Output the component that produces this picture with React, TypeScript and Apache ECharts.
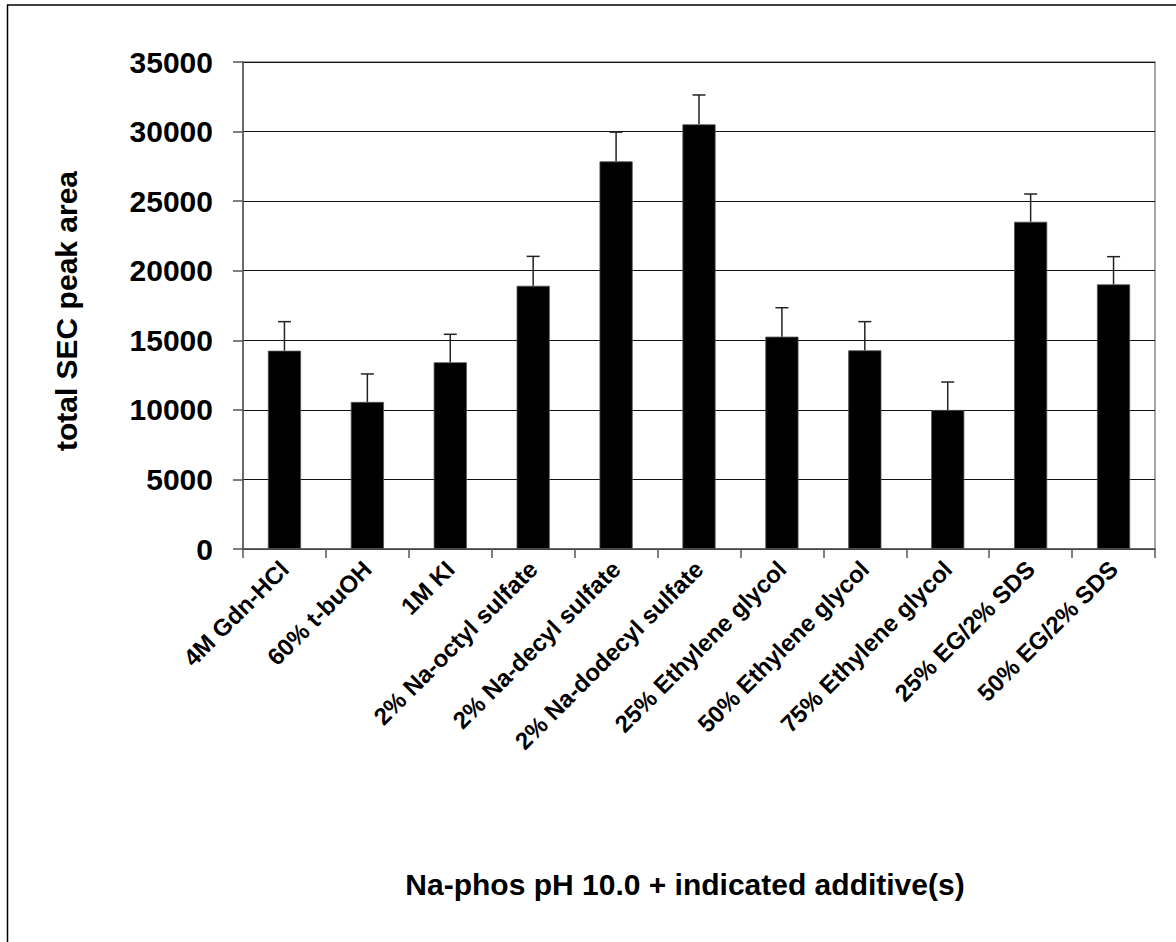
import React, { useEffect, useRef } from "react";
import * as echarts from "echarts";

const categories = [
  "4M Gdn-HCl",
  "60% t-buOH",
  "1M KI",
  "2% Na-octyl sulfate",
  "2% Na-decyl sulfate",
  "2% Na-dodecyl sulfate",
  "25% Ethylene glycol",
  "50% Ethylene glycol",
  "75% Ethylene glycol",
  "25% EG/2% SDS",
  "50% EG/2% SDS",
];
const peakArea = [14250, 10570, 13420, 18920, 27860, 30520, 15260, 14280, 9990, 23520, 19020];
const errorPlus = [2090, 2010, 2010, 2110, 2100, 2110, 2080, 2060, 2010, 1990, 1990];
const yTicks = { min: 0, max: 35000, interval: 5000 };
const yTitle = "total SEC peak area";
const xTitle = "Na-phos pH 10.0 + indicated additive(s)";

const FONT = "'Liberation Sans', Arial, sans-serif";

export default function App() {
  const ref = useRef<HTMLDivElement>(null);
  useEffect(() => {
    document.body.style.margin = "0";
    const chart = echarts.init(ref.current!, null, { renderer: "svg" });
    const errData = peakArea.map((v, i) => [i, v, errorPlus[i]]);
    chart.setOption({
      animation: false,
      backgroundColor: "#ffffff",
      grid: {
        left: 243,
        top: 62,
        right: 21,
        bottom: 393,
        show: true,
        borderColor: "#8a8a8a",
        borderWidth: 1.5,
        backgroundColor: "transparent",
      },
      xAxis: {
        type: "category",
        data: categories,
        axisLine: { show: true, lineStyle: { color: "#555", width: 1.5 } },
        axisTick: { show: true, length: 9, lineStyle: { color: "#555", width: 1.5 } },
        axisLabel: {
          interval: 0,
          rotate: 45,
          margin: 16,
          color: "#000",
          fontFamily: FONT,
          fontWeight: "bold",
          fontSize: 24,
        },
      },
      yAxis: {
        type: "value",
        min: yTicks.min,
        max: yTicks.max,
        interval: yTicks.interval,
        axisLine: { show: true, lineStyle: { color: "#555", width: 1.5 } },
        axisTick: { show: true, length: 10, lineStyle: { color: "#555", width: 1.5 } },
        splitLine: { show: true, lineStyle: { color: "#111", width: 1.2 } },
        axisLabel: {
          margin: 30,
          color: "#000",
          fontFamily: FONT,
          fontWeight: "bold",
          fontSize: 30,
          formatter: (v: number) => String(v),
        },
      },
      series: [
        {
          type: "bar",
          data: peakArea,
          barWidth: "40%",
          itemStyle: { color: "#000", borderColor: "#555", borderWidth: 0.8 },
          z: 2,
        },
        {
          type: "custom",
          data: errData,
          encode: { x: 0, y: 1 },
          z: 3,
          renderItem: (params: any, api: any) => {
            const x = api.value(0);
            const v = api.value(1);
            const e = api.value(2);
            const p0 = api.coord([x, v]);
            const p1 = api.coord([x, v + e]);
            const hw = 6.5;
            const style = { stroke: "#222", lineWidth: 1.5 };
            return {
              type: "group",
              children: [
                { type: "line", shape: { x1: p0[0], y1: p0[1], x2: p1[0], y2: p1[1] }, style },
                { type: "line", shape: { x1: p1[0] - hw, y1: p1[1], x2: p1[0] + hw, y2: p1[1] }, style },
              ],
            };
          },
        },
      ],
      graphic: [
        {
          type: "rect",
          shape: { x: 7.5, y: 5, width: 1300, height: 1100 },
          style: { fill: "none", stroke: "#000", lineWidth: 1.5 },
          silent: true,
        },
        {
          type: "text",
          x: 66,
          y: 311,
          rotation: Math.PI / 2,
          style: {
            text: yTitle,
            fill: "#000",
            font: `bold 30px ${FONT}`,
            textAlign: "center",
            textVerticalAlign: "middle",
          },
        },
        {
          type: "text",
          x: 685,
          y: 884,
          style: {
            text: xTitle,
            fill: "#000",
            font: `bold 30px ${FONT}`,
            textAlign: "center",
            textVerticalAlign: "middle",
          },
        },
      ],
    });
    return () => chart.dispose();
  }, []);
  return <div ref={ref} style={{ width: 1176, height: 942 }} />;
}
